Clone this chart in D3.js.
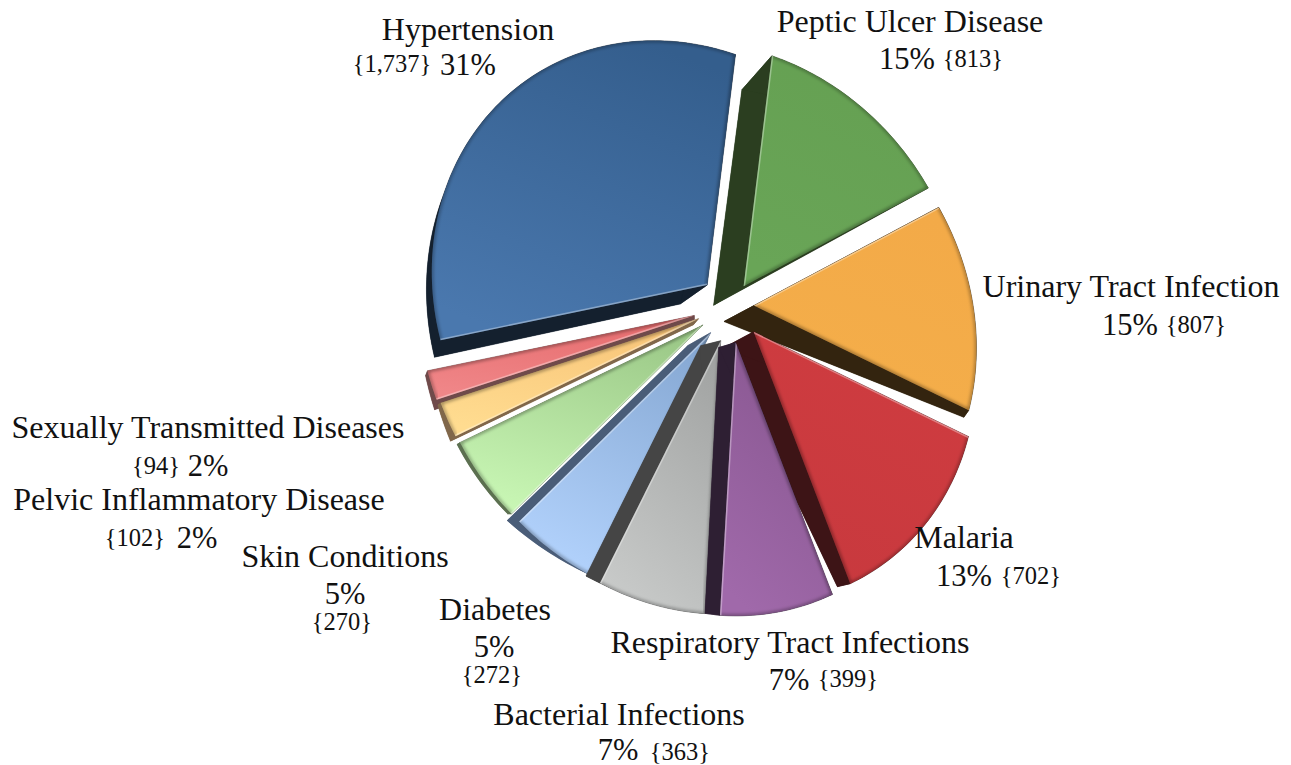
<!DOCTYPE html>
<html>
<head>
	<meta charset="utf-8">
	<title>Pie</title>
	<script src="https://d3js.org/d3.v7.min.js"></script>
	<style>
		html, body { margin: 0; background: #fff; }
		text { font-family: "Liberation Serif", serif; fill: #111; }
	</style>
</head>
<body>
	<div class="chart"></div>

	<script type="text/javascript">

		// data, clockwise from the top of the pie
		const categories = ['Peptic Ulcer Disease', 'Urinary Tract Infection', 'Malaria', 'Respiratory Tract Infections', 'Bacterial Infections', 'Diabetes', 'Skin Conditions', 'Pelvic Inflammatory Disease', 'Sexually Transmitted Diseases', 'Hypertension']
		const counts = [813, 807, 702, 399, 363, 272, 270, 102, 94, 1737]
		const countLabels = ['{813}', '{807}', '{702}', '{399}', '{363}', '{272}', '{270}', '{102}', '{94}', '{1,737}']
		const percents = ['15%', '15%', '13%', '7%', '7%', '5%', '5%', '2%', '2%', '31%']

		// look of each slice, same order
		const topLight = ['#69a557', '#f4ae4a', '#c8393e', '#a069aa', '#c8cac9', '#b2d2fc', '#c8f6b4', '#ffdc90', '#f08688', '#4a78ae']
		const topDark = ['#65a052', '#f3aa48', '#cf3c40', '#87568f', '#a2a4a3', '#87a9d4', '#9cc988', '#f8c478', '#e66c6e', '#345e8d']
		const wallColor = ['#2b3e20', '#33240f', '#3d1416', '#2e1f33', '#454545', '#4a5d78', '#5c7050', '#80674a', '#6f4a4a', '#14202e']
		const explode = [24, 24, 35, 37, 36, 33, 33, 34, 37, 31]
		const litEdge = ['start', 'start', 'start', 'end', 'end', 'end', 'start', 'start', 'start', 'start']
		// extrusion of the apex, first corner and last corner
		const wallOffsets = [
			[[-30, 19], [-30, 34], [0, 0]],
			[[-30, 16], [0, 0], [-5, 7]],
			[[-30, 16], [-5, 5], [-13, 3]],
			[[-17, 5], [0, 0], [-15, -2]],
			[[-20, 5], [0, 0], [-14, -7]],
			[[-23, 13], [-4, -2], [-12, -1]],
			[[-5, 3], [-4, 0], [-3, 2]],
			[[-5, 6], [-5, 5], [-3, 2]],
			[[0, 4], [-2, 10], [-2, 5]],
			[[-27, 19], [-6, 17], [-1, 3]]
		]

		// label placement: name centre and baseline, then percent and count
		const nameAt = [[910, 32], [1131, 297], [964, 548], [790, 653], [619, 725], [495, 620], [345, 567], [199, 510], [208, 438], [468, 40]]
		const percentAt = [[907, 69], [1130, 335], [964, 586], [789, 690], [618, 760], [494, 657], [345, 604], [197, 548], [208, 476], [468, 75]]
		const countAt = [[973, 67], [1196, 333], [1031, 584], [848, 687], [680, 760], [492, 683], [342, 630], [135, 546], [156, 474], [392, 72]]

		var width = 1291
		var height = 765
		var centerX = 730
		var centerY = 306
		const rad = Math.PI / 180

		var svg = d3
			.select('.chart')
			.append('svg')
			.attr('width', width)
			.attr('height', height)
			.style('display', 'block')

		var defs = svg.append('defs')
		defs.append('filter').attr('id', 'soft').append('feGaussianBlur').attr('stdDeviation', 1.6)
		defs.append('filter').attr('id', 'softer').append('feGaussianBlur').attr('stdDeviation', 0.7)

		/**
		 * pie angles, then the tilt of the picture bends them a little
		 */
		const pie = d3.pie().sort(null).startAngle(7 * rad).endAngle(367 * rad)
		const arcs = pie(counts)
		const bounds = arcs.map((d) => d.startAngle).concat(367 * rad)
		const tilt = d3.scaleLinear()
			.domain(bounds)
			.range([7, 62, 116, 159, 183.3, 206.5, 225.4, 244.2, 251.9, 258.3, 367].map((d) => d * rad))

		// the rim is one slanted ellipse, the apex sits off its centre
		const rim = { cx: -26.5, cy: 14.5, a: 268, b: 239, turn: 55 * rad }
		function rimPoint(angle) {
			const ux = Math.sin(angle), uy = -Math.cos(angle)
			const mx = Math.cos(rim.turn), my = Math.sin(rim.turn)
			const u1 = (ux * mx + uy * my) / rim.a, u2 = (-ux * my + uy * mx) / rim.b
			const c1 = (-rim.cx * mx - rim.cy * my) / rim.a, c2 = (rim.cx * my - rim.cy * mx) / rim.b
			const A = u1 * u1 + u2 * u2
			const B = 2 * (u1 * c1 + u2 * c2)
			const C = c1 * c1 + c2 * c2 - 1
			const r = (-B + Math.sqrt(B * B - 4 * A * C)) / (2 * A)
			return [r * ux, r * uy]
		}

		const line = d3.line()

		const slices = arcs.map((d, i) => {
			const a0 = tilt(d.startAngle), a1 = tilt(d.endAngle)
			const mid = (a0 + a1) / 2
			const apex = [centerX + explode[i] * Math.sin(mid), centerY - explode[i] * Math.cos(mid)]
			const n = Math.ceil((a1 - a0) / rad)
			const rimPts = d3.range(n + 1).map((k) => {
				const p = rimPoint(a0 + (a1 - a0) * k / n)
				return [apex[0] + p[0], apex[1] + p[1], k / n]
			})
			return { i, apex, rimPts }
		})

		function wallPoint(s, p, t) {
			const o = wallOffsets[s.i]
			return [p[0] + o[1][0] + (o[2][0] - o[1][0]) * t, p[1] + o[1][1] + (o[2][1] - o[1][1]) * t]
		}

		// back ones first
		const drawOrder = [9, 0, 1, 8, 7, 6, 2, 5, 4, 3]
		const chart = svg.append('g')

		drawOrder.forEach((i) => {
			const s = slices[i]
			const g = chart.append('g').attr('class', 'slice')
			const off = wallOffsets[i]
			const low = [s.apex[0] + off[0][0], s.apex[1] + off[0][1]]
			const first = s.rimPts[0], last = s.rimPts[s.rimPts.length - 1]
			const lowRim = s.rimPts.map((p) => wallPoint(s, p, p[2]))

			// walls: the two cut faces and the rim
			g.append('path').attr('fill', wallColor[i]).attr('stroke', wallColor[i]).attr('stroke-width', 0.5)
				.attr('d', line([s.apex, first, lowRim[0], low]) + 'Z')
			g.append('path').attr('fill', wallColor[i]).attr('stroke', wallColor[i]).attr('stroke-width', 0.5)
				.attr('d', line([s.apex, last, lowRim[lowRim.length - 1], low]) + 'Z')
			g.append('path').attr('fill', wallColor[i]).attr('stroke', wallColor[i]).attr('stroke-width', 0.5)
				.attr('d', line(s.rimPts.concat(lowRim.slice().reverse())) + 'Z')
			g.append('path').attr('fill', wallColor[i])
				.attr('d', line([low].concat(lowRim)) + 'Z')

			// top face
			const grad = defs.append('linearGradient').attr('id', `top-${i}`)
				.attr('x1', 0.7).attr('y1', 0).attr('x2', 0.3).attr('y2', 1)
			grad.append('stop').attr('offset', 0).attr('stop-color', topDark[i])
			grad.append('stop').attr('offset', 1).attr('stop-color', topLight[i])

			const face = line([s.apex].concat(s.rimPts)) + 'Z'
			defs.append('clipPath').attr('id', `clip-${i}`).append('path').attr('d', face)
			g.append('path').attr('d', face).attr('fill', `url(#top-${i})`)

			// bevel, kept inside the face
			const bevel = g.append('g').attr('clip-path', `url(#clip-${i})`)
			bevel.append('path').attr('d', line(s.rimPts)).attr('fill', 'none')
				.attr('stroke', '#000').attr('stroke-opacity', 0.25).attr('stroke-width', 4).attr('filter', 'url(#soft)')
			const litEnd = litEdge[i] === 'start' ? first : last
			const darkEnd = litEdge[i] === 'start' ? last : first
			bevel.append('path').attr('d', line([s.apex, darkEnd])).attr('fill', 'none')
				.attr('stroke', '#000').attr('stroke-opacity', 0.3).attr('stroke-width', 4).attr('filter', 'url(#soft)')
			bevel.append('path').attr('d', line([s.apex, litEnd])).attr('fill', 'none')
				.attr('stroke', '#fff').attr('stroke-opacity', 0.35).attr('stroke-width', 3).attr('filter', 'url(#softer)')
		})

		/**
		 * labels
		 */
		const labels = svg.append('g')
		categories.forEach((name, i) => {
			labels.append('text').attr('x', nameAt[i][0]).attr('y', nameAt[i][1])
				.attr('text-anchor', 'middle').attr('font-size', 32).text(name)
			labels.append('text').attr('x', percentAt[i][0]).attr('y', percentAt[i][1])
				.attr('text-anchor', 'middle').attr('font-size', 30.5).text(percents[i])
			labels.append('text').attr('x', countAt[i][0]).attr('y', countAt[i][1])
				.attr('text-anchor', 'middle').attr('font-size', 24.5).text(countLabels[i])
		})
	</script>
</body>
</html>
